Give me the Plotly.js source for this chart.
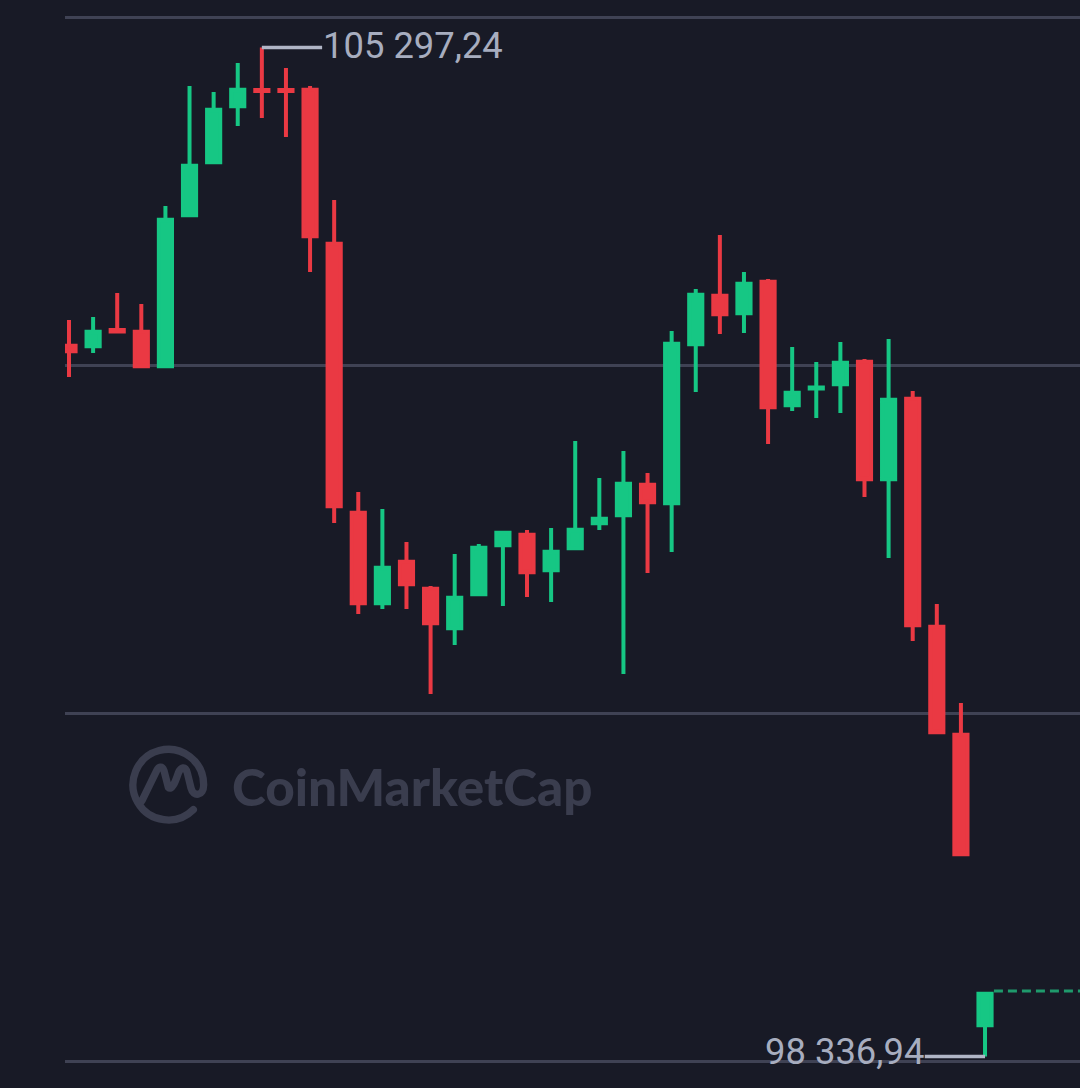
<!DOCTYPE html>
<html>
<head>
<meta charset="utf-8">
<title>BTC candlestick</title>
<script src="https://cdn.plot.ly/plotly-3.0.1.min.js"></script>
<style>
  html, body { margin: 0; padding: 0; background: #181a26; }
  #chart { width: 1080px; height: 1088px; }
</style>
</head>
<body>
<div id="chart"></div>
<script>
// prices, one entry per candle
const opens = [103240, 103236, 103348, 103336, 103098, 104140, 104505, 104891, 105003, 105003,
  105005, 103943, 102088, 101464, 101750, 101564, 101291, 101526, 101864, 101936,
  101691, 101843, 102015, 102070, 102281, 102153, 103250, 103584, 103464, 103681,
  102829, 102945, 102974, 103129, 102319, 102874, 101302, 100557, 98553];
const highs = [103417, 103438, 103603, 103527, 104203, 105031, 104990, 105190, 105297.24, 105155,
  105031, 104245, 102231, 102114, 101886, 101583, 101803, 101872, 101962, 101969,
  101983, 102583, 102327, 102514, 102362, 103341, 103631, 104003, 103748, 103700,
  103231, 103127, 103265, 103148, 103286, 102927, 101459, 100776, 98783];
const lows = [103024, 103190, 103327, 103086, 103086, 104127, 104493, 104755, 104810, 104679,
  103748, 102017, 101390, 101424, 101424, 100838, 101176, 101514, 101445, 101507,
  101472, 101831, 101969, 100976, 101672, 101817, 102921, 103320, 103327, 102562,
  102789, 102741, 102776, 102196, 101776, 101203, 100562, 99721, 98336.94];
const closes = [103202, 103336, 103338, 103098, 104108, 104481, 104867, 105005, 104996, 104996,
  103995, 102133, 101464, 101709, 101595, 101326, 101502, 101846, 101950, 101677,
  101819, 101970, 102046, 102288, 102160, 103253, 103591, 103457, 103667, 102815,
  102915, 102952, 103122, 102319, 102867, 101312, 100574, 99733, 98771];
const candles = opens.map((_, i) => i);

const gridPrices = [98300, 100700, 103100, 105500];
const highLabel = '105 297,24';
const lowLabel = '98 336,94';
const maxPrice = 105297.24;
const minPrice = 98336.94;
const lastPrice = 98790;

const bg = '#181a26';
const red = '#ea3943';
const green = '#16c784';
const labelColor = '#a7adbf';
const watermark = '#3a3d4e';

// CoinMarketCap ring and squiggle
const logoSvg = `<svg xmlns="http://www.w3.org/2000/svg" viewBox="30 15 285 300">
<g fill="none" stroke="${watermark}" stroke-width="22" stroke-linecap="round" stroke-linejoin="round">
<path d="M250 245 A106 106 0 1 1 281 170 C281 205 250 208 243 180 L232 135 C226 112 212 118 205 135 C195 165 185 188 175 178 L162 128 C156 112 146 116 140 128 L96 218"/>
</g></svg>`;

const candleTrace = {
  type: 'candlestick',
  x: candles,
  open: opens,
  high: highs,
  low: lows,
  close: closes,
  increasing: { line: { color: green, width: 4 }, fillcolor: green },
  decreasing: { line: { color: red, width: 4 }, fillcolor: red },
  whiskerwidth: 0,
  hoverinfo: 'skip',
  showlegend: false
};

// leader lines to the extreme labels, and the last price line
const highLeader = {
  type: 'scatter', mode: 'lines', x: [8, 10.5], y: [maxPrice, maxPrice],
  line: { color: '#b0b5c6', width: 3.5 }, hoverinfo: 'skip', showlegend: false
};
const lowLeader = {
  type: 'scatter', mode: 'lines', x: [35.5, 38], y: [minPrice, minPrice],
  line: { color: '#b0b5c6', width: 3.5 }, hoverinfo: 'skip', showlegend: false
};
const lastLine = {
  type: 'scatter', mode: 'lines', x: [38.37, 42], y: [lastPrice, lastPrice],
  line: { color: '#1f9a6c', width: 3, dash: '9px,5px' }, hoverinfo: 'skip', showlegend: false
};

const layout = {
  width: 1080,
  height: 1088,
  margin: { l: 65, r: 0, t: 0, b: 0 },
  paper_bgcolor: bg,
  plot_bgcolor: bg,
  showlegend: false,
  boxgap: 0.22,
  xaxis: {
    type: 'linear',
    range: [-0.166, 41.94],
    rangeslider: { visible: false },
    showgrid: false, zeroline: false, showticklabels: false, ticks: '', showline: false
  },
  yaxis: {
    range: [98120.5, 105624],
    tickmode: 'array',
    tickvals: gridPrices,
    showticklabels: false,
    ticks: '',
    showgrid: true,
    gridcolor: '#3f4254',
    gridwidth: 3,
    zeroline: false,
    showline: false
  },
  images: [{
    source: 'data:image/svg+xml;utf8,' + encodeURIComponent(logoSvg),
    xref: 'paper', yref: 'paper',
    x: (120 - 65) / 1015, y: 1 - 733 / 1088,
    sizex: 95 / 1015, sizey: 100 / 1088,
    xanchor: 'left', yanchor: 'top',
    sizing: 'stretch',
    layer: 'below'
  }],
  annotations: [
    {
      text: highLabel, x: 10.44, y: maxPrice, yshift: 2, xref: 'x', yref: 'y',
      xanchor: 'left', yanchor: 'middle', showarrow: false,
      font: { family: 'Roboto', size: 36.4, color: labelColor }
    },
    {
      text: lowLabel, x: 35.55, y: minPrice, yshift: 5, xref: 'x', yref: 'y',
      xanchor: 'right', yanchor: 'middle', showarrow: false,
      font: { family: 'Roboto', size: 36.4, color: labelColor }
    },
    {
      text: 'CoinMarketCap', x: (230 - 65) / 1015, y: 1 - 786 / 1088, xref: 'paper', yref: 'paper',
      xanchor: 'left', yanchor: 'middle', showarrow: false,
      font: { family: 'Lato', size: 51.2, weight: 900, color: watermark }
    }
  ]
};

Plotly.newPlot('chart', [candleTrace, lastLine, highLeader, lowLeader], layout, { displayModeBar: false, staticPlot: true });
</script>
</body>
</html>
